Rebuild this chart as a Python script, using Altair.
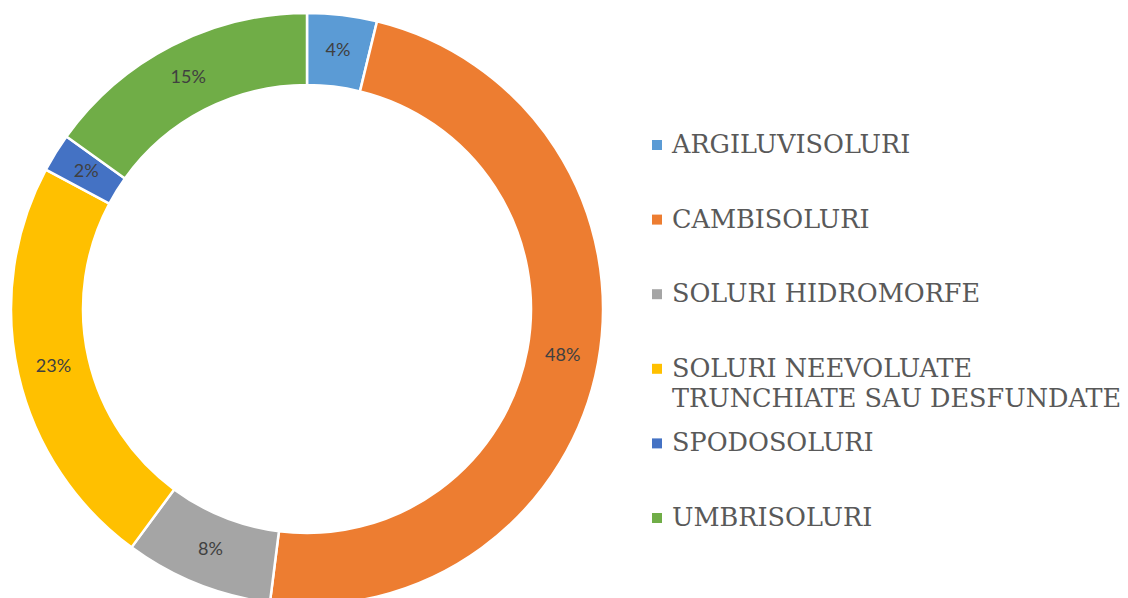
import altair as alt
import pandas as pd

categories = [
    "ARGILUVISOLURI",
    "CAMBISOLURI",
    "SOLURI HIDROMORFE",
    "SOLURI NEEVOLUATE TRUNCHIATE SAU DESFUNDATE",
    "SPODOSOLURI",
    "UMBRISOLURI",
]
legend_labels = [
    "ARGILUVISOLURI",
    "CAMBISOLURI",
    "SOLURI HIDROMORFE",
    "SOLURI NEEVOLUATE\nTRUNCHIATE SAU DESFUNDATE",
    "SPODOSOLURI",
    "UMBRISOLURI",
]
values = [3.8, 48.2, 8.1, 22.7, 2.1, 15.1]
labels = ["4%", "48%", "8%", "23%", "2%", "15%"]
colors = ["#5B9BD5", "#ED7D31", "#A5A5A5", "#FFC000", "#4472C4", "#70AD47"]

df = pd.DataFrame({
    "cat": categories,
    "val": values,
    "lab": labels,
    "leg": legend_labels,
    "ord": list(range(len(categories))),
})

CX, CY = 307, 309
R_OUT, R_IN = 296, 224
R_MID = (R_OUT + R_IN) / 2

color_scale = alt.Scale(domain=categories, range=colors)

base = alt.Chart(df).encode(
    theta=alt.Theta("val:Q", stack=True),
    order=alt.Order("ord:Q"),
)

arcs = base.mark_arc(
    outerRadius=R_OUT, innerRadius=R_IN, stroke="white", strokeWidth=2.5
).encode(
    x=alt.value(CX),
    y=alt.value(CY),
    color=alt.Color("cat:N", scale=color_scale, legend=None),
)

texts = base.mark_text(
    radius=R_MID, font="Lato", fontSize=18, color="#404040"
).encode(
    x=alt.value(CX),
    y=alt.value(CY),
    text="lab:N",
)

leg_y = alt.Y(
    "cat:N",
    scale=alt.Scale(type="point", domain=categories, range=[145, 518], padding=0),
    axis=None,
)

leg_sym = alt.Chart(df).mark_square(size=100, opacity=1, filled=True).encode(
    x=alt.value(657),
    y=leg_y,
    color=alt.Color("cat:N", scale=color_scale, legend=None),
)

leg_txt = alt.Chart(df).mark_text(
    align="left",
    baseline="middle",
    font="DejaVu Serif",
    fontSize=25.5,
    color="#595959",
    lineBreak="\n",
    lineHeight=30,
).encode(
    x=alt.value(672),
    y=leg_y,
    text="leg:N",
)

chart = (
    alt.layer(arcs, texts, leg_sym, leg_txt)
    .properties(width=1128, height=598, padding=0, autosize="none", background="white")
    .configure_view(stroke=None)
)

chart.save("out.html", embed_options={"renderer": "svg", "actions": False})
